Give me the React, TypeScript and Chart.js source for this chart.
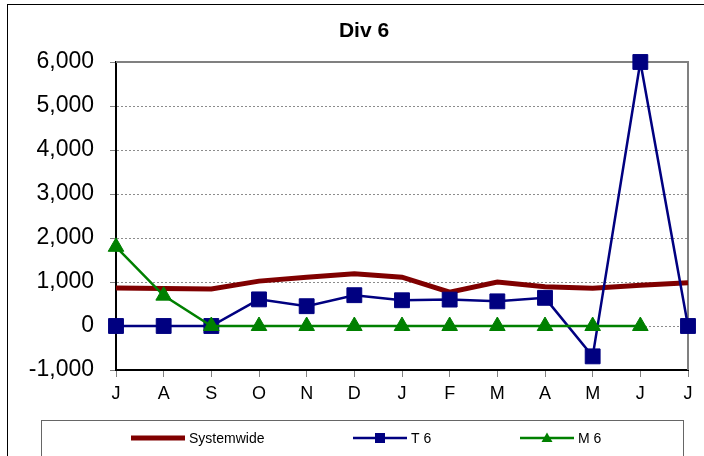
import React, { useEffect, useRef } from "react";
import { Chart, registerables } from "chart.js";

Chart.register(...registerables);

const TITLE = "Div 6";
const MONTHS = ["J", "A", "S", "O", "N", "D", "J", "F", "M", "A", "M", "J", "J"];
const SYSTEMWIDE = [865, 850, 840, 1020, 1110, 1190, 1110, 770, 1000, 890, 860, 925, 985];
const T6 = [0, 0, 0, 605, 450, 700, 585, 600, 560, 640, -690, 6000, 0];
const M6: (number | null)[] = [1800, 690, 0, 0, 0, 0, 0, 0, 0, 0, 0, 0, null];
const Y_MIN = -1000;
const Y_MAX = 6000;
const Y_STEP = 1000;

const FONT = "'Liberation Sans', Arial, Helvetica, sans-serif";

const framePlugin = {
  id: "framePlugin",
  beforeDraw(chart: any) {
    const ctx = chart.ctx;
    ctx.save();
    ctx.fillStyle = "#ffffff";
    ctx.fillRect(0, 0, chart.width, chart.height);
    ctx.strokeStyle = "#000000";
    ctx.lineWidth = 1;
    ctx.strokeRect(7.5, 4.5, chart.width + 20, chart.height + 20);
    ctx.fillStyle = "#000000";
    ctx.font = `bold 21px ${FONT}`;
    ctx.textAlign = "center";
    ctx.textBaseline = "middle";
    ctx.fillText(TITLE, 364, 31);
    ctx.restore();
  },
  beforeDatasetsDraw(chart: any) {
    const { ctx, chartArea } = chart;
    ctx.save();
    ctx.strokeStyle = "#808080";
    ctx.lineWidth = 2;
    ctx.beginPath();
    ctx.moveTo(chartArea.left, chartArea.top);
    ctx.lineTo(chartArea.right, chartArea.top);
    ctx.lineTo(chartArea.right, chartArea.bottom);
    ctx.stroke();
    ctx.restore();
  },
  afterDraw(chart: any) {
    const ctx = chart.ctx;
    ctx.save();
    ctx.strokeStyle = "#666666";
    ctx.lineWidth = 1;
    ctx.strokeRect(41.5, 420.5, 642, 60);
    const starts = [131, 353, 520];
    const y = 438;
    chart.data.datasets.forEach((ds: any, i: number) => {
      const x0 = starts[i];
      const x1 = x0 + 54;
      ctx.strokeStyle = ds.borderColor;
      ctx.lineWidth = ds.borderWidth;
      ctx.lineCap = "butt";
      ctx.beginPath();
      ctx.moveTo(x0, y);
      ctx.lineTo(x1, y);
      ctx.stroke();
      const cx = (x0 + x1) / 2;
      ctx.fillStyle = ds.pointBackgroundColor || ds.borderColor;
      if (ds.pointStyle === "rect" && ds.pointRadius > 0) {
        ctx.fillRect(cx - 5, y - 5, 10, 10);
      } else if (ds.pointStyle === "triangle" && ds.pointRadius > 0) {
        ctx.beginPath();
        ctx.moveTo(cx, y - 5.5);
        ctx.lineTo(cx + 5.5, y + 4);
        ctx.lineTo(cx - 5.5, y + 4);
        ctx.closePath();
        ctx.fill();
      }
      ctx.fillStyle = "#000000";
      ctx.font = `14px ${FONT}`;
      ctx.textAlign = "left";
      ctx.textBaseline = "middle";
      ctx.fillText(ds.label, x1 + 4, y + 1);
    });
    ctx.restore();
  },
};

export default function App() {
  const ref = useRef<HTMLCanvasElement | null>(null);

  useEffect(() => {
    if (!ref.current) return;
    Chart.defaults.font.family = FONT;
    const chart = new Chart(ref.current, {
      type: "line",
      data: {
        labels: MONTHS,
        datasets: [
          {
            label: "Systemwide",
            data: SYSTEMWIDE,
            borderColor: "#800000",
            backgroundColor: "#800000",
            borderWidth: 5,
            pointRadius: 0,
            pointStyle: "circle",
            tension: 0,
            order: 2,
            clip: false,
          } as any,
          {
            label: "T 6",
            data: T6,
            borderColor: "#000080",
            backgroundColor: "#000080",
            pointBackgroundColor: "#000080",
            pointBorderColor: "#000080",
            borderWidth: 2.5,
            pointRadius: 10.5,
            pointBorderWidth: 1,
            pointStyle: "rect",
            tension: 0,
            order: 1,
            clip: false,
          },
          {
            label: "M 6",
            data: M6,
            borderColor: "#008000",
            backgroundColor: "#008000",
            pointBackgroundColor: "#008000",
            pointBorderColor: "#008000",
            borderWidth: 2.5,
            pointRadius: 9,
            pointBorderWidth: 1,
            pointStyle: "triangle",
            tension: 0,
            order: 0,
            clip: false,
          },
        ],
      },
      options: {
        responsive: false,
        animation: false,
        devicePixelRatio: 1,
        layout: { padding: { left: 0, top: 62, right: 16, bottom: 56 } },
        plugins: {
          legend: { display: false },
          title: { display: false },
          tooltip: { enabled: false },
        },
        scales: {
          x: {
            offset: false,
            afterFit: (s: any) => {
              s.height = 30;
            },
            grid: {
              display: true,
              drawOnChartArea: false,
              drawTicks: true,
              tickLength: 7,
              color: "#808080",
              tickColor: "#808080",
              offset: false,
            },
            border: { display: true, color: "#000000", width: 2 },
            ticks: {
              color: "#000000",
              font: { size: 18, family: FONT },
              padding: 6,
              maxRotation: 0,
              autoSkip: false,
            },
          },
          y: {
            min: Y_MIN,
            max: Y_MAX,
            afterFit: (s: any) => {
              s.width = 116;
            },
            grid: {
              color: "#8c8c8c",
              lineWidth: 1,
              tickLength: 6,
              tickColor: "#808080",
              drawTicks: true,
            },
            border: { display: true, color: "#000000", width: 2, dash: [2, 2] },
            ticks: {
              stepSize: Y_STEP,
              color: "#000000",
              font: { size: 23, family: FONT },
              padding: 16,
              callback: (v: any) => Number(v).toLocaleString("en-US"),
            },
          },
        },
      },
      plugins: [framePlugin],
    });
    return () => chart.destroy();
  }, []);

  return (
    <div style={{ position: "fixed", left: 0, top: 0, width: 704, height: 456 }}>
      <canvas ref={ref} width={704} height={456} />
    </div>
  );
}
